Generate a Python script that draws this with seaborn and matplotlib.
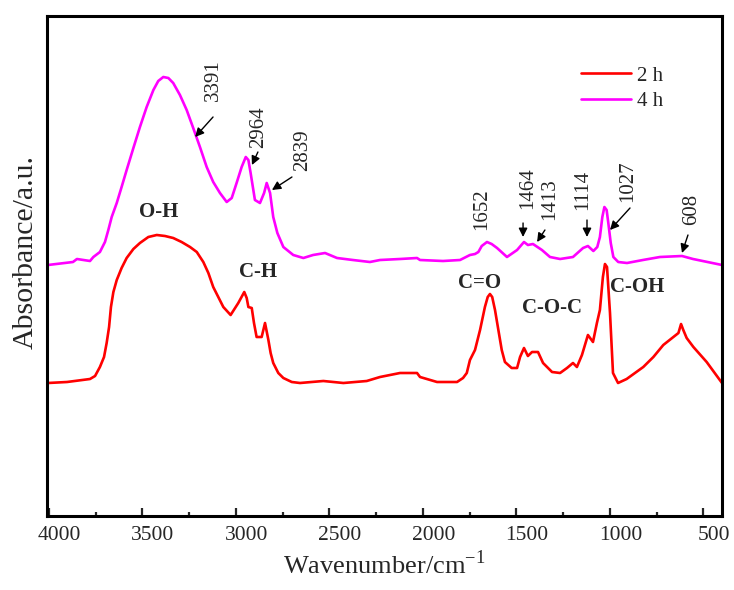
import matplotlib
matplotlib.use("Agg")
import matplotlib.pyplot as plt
from matplotlib.ticker import MultipleLocator
from matplotlib.transforms import ScaledTranslation
import seaborn as sns
import pandas as pd

# FTIR spectra (wavenumber in cm-1, absorbance in a.u. with offset)
wn_2h = [4005, 3903, 3780, 3753, 3727, 3705, 3691, 3678, 3668, 3655, 3637, 3611,
         3584, 3548, 3513, 3468, 3423, 3379, 3335, 3290, 3245, 3209, 3174, 3147,
         3121, 3094, 3067, 3028, 2987, 2955, 2942, 2933, 2915, 2903, 2889, 2862,
         2844, 2826, 2814, 2800, 2773, 2746, 2701, 2657, 2532, 2425, 2300, 2229,
         2122, 2031, 2015, 1924, 1817, 1785, 1765, 1748, 1721, 1694, 1668, 1653,
         1641, 1629, 1614, 1596, 1578, 1561, 1525, 1496, 1480, 1459, 1438, 1416,
         1384, 1357, 1309, 1266, 1229, 1197, 1176, 1149, 1117, 1090, 1069, 1053,
         1037, 1026, 1015, 999, 983, 956, 910, 821, 767, 714, 660, 633, 619, 607,
         589, 553, 482, 400]
abs_2h = [1.33, 1.34, 1.37, 1.40, 1.49, 1.59, 1.73, 1.89, 2.09, 2.24, 2.36, 2.48,
          2.58, 2.67, 2.73, 2.79, 2.81, 2.80, 2.78, 2.74, 2.69, 2.64, 2.54, 2.43,
          2.29, 2.19, 2.09, 2.01, 2.13, 2.24, 2.18, 2.09, 2.08, 1.93, 1.79, 1.79,
          1.93, 1.76, 1.63, 1.53, 1.43, 1.38, 1.34, 1.33, 1.35, 1.33, 1.35, 1.39,
          1.43, 1.43, 1.39, 1.34, 1.34, 1.38, 1.43, 1.56, 1.66, 1.86, 2.09, 2.19,
          2.22, 2.19, 2.06, 1.86, 1.66, 1.54, 1.48, 1.48, 1.59, 1.68, 1.60, 1.64,
          1.64, 1.53, 1.44, 1.43, 1.48, 1.53, 1.49, 1.61, 1.81, 1.74, 1.93, 2.06,
          2.39, 2.52, 2.49, 2.03, 1.43, 1.33, 1.37, 1.49, 1.59, 1.71, 1.79, 1.83,
          1.92, 1.86, 1.78, 1.69, 1.54, 1.33]

wn_4h = [4005, 3871, 3850, 3780, 3762, 3727, 3700, 3682, 3664, 3637, 3611, 3584,
         3548, 3513, 3477, 3441, 3415, 3388, 3361, 3335, 3299, 3263, 3228, 3192,
         3156, 3121, 3085, 3049, 3022, 2996, 2969, 2947, 2933, 2921, 2898, 2871,
         2849, 2835, 2817, 2800, 2778, 2746, 2693, 2639, 2587, 2523, 2459, 2374,
         2283, 2229, 2122, 2031, 2015, 1892, 1801, 1748, 1721, 1703, 1685, 1657,
         1632, 1603, 1550, 1496, 1459, 1438, 1411, 1363, 1320, 1266, 1197, 1143,
         1117, 1088, 1067, 1053, 1040, 1029, 1017, 1008, 995, 981, 955, 908, 823,
         732, 614, 555, 400]
abs_4h = [2.51, 2.54, 2.57, 2.55, 2.59, 2.64, 2.74, 2.86, 2.99, 3.13, 3.29, 3.46,
          3.68, 3.89, 4.09, 4.26, 4.35, 4.39, 4.38, 4.33, 4.21, 4.06, 3.88, 3.69,
          3.49, 3.34, 3.23, 3.14, 3.18, 3.33, 3.49, 3.59, 3.56, 3.43, 3.16, 3.13,
          3.23, 3.33, 3.23, 2.99, 2.83, 2.69, 2.61, 2.58, 2.61, 2.63, 2.58, 2.56,
          2.54, 2.56, 2.57, 2.58, 2.56, 2.55, 2.56, 2.61, 2.62, 2.64, 2.70, 2.74,
          2.72, 2.68, 2.59, 2.66, 2.74, 2.71, 2.72, 2.66, 2.59, 2.57, 2.59, 2.68,
          2.70, 2.65, 2.69, 2.79, 2.99, 3.09, 3.06, 2.93, 2.73, 2.59, 2.54, 2.53,
          2.56, 2.59, 2.60, 2.57, 2.51]

# peak labels: text, text position, arrow tail, arrow head (None = no arrow)
peak_labels = ["3391", "2964", "2839", "1652", "1464", "1413", "1114", "1027", "608"]
peak_text_xy = [(3122, 4.36), (2876, 3.89), (2641, 3.66), (1684, 3.07), (1438, 3.28),
                (1320, 3.17), (1143, 3.26), (903, 3.35), (561, 3.07)]
arrow_tail = [(3122, 3.99), (2882, 3.64), (2700, 3.39), None, (1464, 2.93),
              (1347, 2.86), (1122, 2.96), (892, 3.08), (582, 2.81)]
arrow_head = [(3218, 3.79), (2914, 3.51), (2807, 3.26), None, (1464, 2.79),
              (1389, 2.74), (1122, 2.79), (999, 2.86), (614, 2.63)]

group_labels = ["O-H", "C-H", "C=O", "C-O-C", "C-OH"]
group_xy = [(3412, 3.04), (2879, 2.44), (1698, 2.33), (1309, 2.08), (851, 2.29)]

sns.set_style("white")
plt.rcParams['font.family'] = ['Liberation Serif', 'DejaVu Serif']
plt.rcParams['mathtext.fontset'] = 'custom'
plt.rcParams['mathtext.rm'] = 'Liberation Serif'

df = pd.concat([
    pd.DataFrame({"wn": wn_2h, "absorb": abs_2h, "time": "2 h"}),
    pd.DataFrame({"wn": wn_4h, "absorb": abs_4h, "time": "4 h"}),
])

fig = plt.figure(figsize=(7.34, 5.90), dpi=100)
ax = fig.add_axes([47 / 734, 74 / 590, 675 / 734, 500 / 590])

sns.lineplot(data=df, x="wn", y="absorb", hue="time", palette=["#ff0000", "#ff00ff"],
             estimator=None, sort=False, lw=1.9, ax=ax)

ax.set_xlim(4010, 400)
ax.set_ylim(0, 5.0)
ax.set_xticks([4000, 3500, 3000, 2500, 2000, 1500, 1000, 500])
ax.xaxis.set_minor_locator(MultipleLocator(250))
ax.set_yticks([])
ax.tick_params(axis='x', which='major', direction='in', length=6, width=1.6,
               labelsize=15.5, pad=7, bottom=True)
ax.tick_params(axis='x', which='minor', direction='in', length=3, width=1.6, bottom=True)
for s in ax.spines.values():
    s.set_linewidth(2.2)
    s.set_color('black')

ax.set_xlabel("Wavenumber/cm$^{-1}$", fontsize=19, labelpad=4)
ax.set_ylabel("Absorbance/a.u.", fontsize=21.5)
ax.yaxis.set_label_coords(-0.012, 0.528)

ax.legend(loc='upper left', bbox_to_anchor=(0.791, 0.90), frameon=False,
          fontsize=15, handlelength=2.4, handletextpad=0.3, labelspacing=0.3,
          borderpad=0, borderaxespad=0, title=None)

for txt, (tx, ty), tail, head in zip(peak_labels, peak_text_xy, arrow_tail, arrow_head):
    ax.text(tx, ty, txt, rotation=90, ha='center', va='center', fontsize=15)
    if tail is not None:
        ax.annotate("", xy=head, xytext=tail,
                    arrowprops=dict(arrowstyle='-|>', color='black', lw=1.0,
                                    mutation_scale=13, shrinkA=0, shrinkB=0))

for txt, (gx, gy) in zip(group_labels, group_xy):
    ax.text(gx, gy, txt, ha='center', va='center', fontsize=15, fontweight='bold')

# tick labels sit slightly right of their ticks in the original
offset = ScaledTranslation(10.5 / 100, 0, fig.dpi_scale_trans)
for tick in ax.xaxis.get_major_ticks():
    tick.label1.set_transform(tick.label1.get_transform() + offset)

fig.savefig("out.png", dpi=100)
